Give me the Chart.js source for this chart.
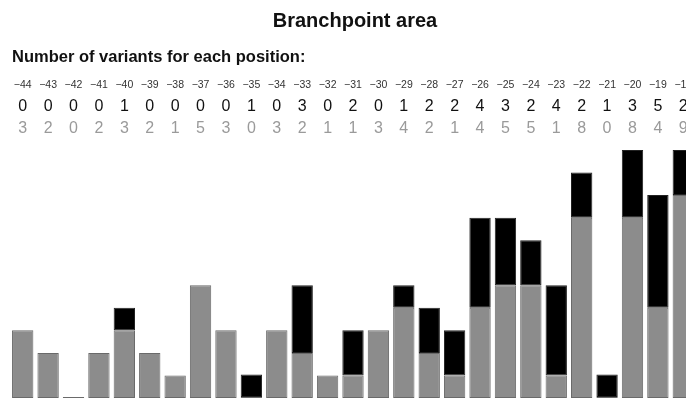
<!DOCTYPE html>
<html>
<head>
<meta charset="utf-8">
<title>Branchpoint area</title>
<script src="https://cdn.jsdelivr.net/npm/chart.js@4/dist/chart.umd.min.js"></script>
<style>
  html, body { margin: 0; padding: 0; background: #fff; overflow: hidden; }
  #wrap { position: relative; width: 700px; height: 398px; }
</style>
</head>
<body>
<div id="wrap"><canvas id="bpChart"></canvas></div>
<script>
// positions upstream of the acceptor site
const positions = ["-44", "-43", "-42", "-41", "-40", "-39", "-38", "-37", "-36", "-35",
  "-34", "-33", "-32", "-31", "-30", "-29", "-28", "-27", "-26", "-25",
  "-24", "-23", "-22", "-21", "-20", "-19", "-18"];

// variant counts per position (black row / gray row)
const blackCounts = [0, 0, 0, 0, 1, 0, 0, 0, 0, 1, 0, 3, 0, 2, 0, 1, 2, 2, 4, 3, 2, 4, 2, 1, 3, 5, 2];
const grayCounts  = [3, 2, 0, 2, 3, 2, 1, 5, 3, 0, 3, 2, 1, 1, 3, 4, 2, 1, 4, 5, 5, 1, 8, 0, 8, 4, 9];

const FONT = "'Liberation Sans', Arial, sans-serif";

// header text + the three number rows above each bar
const headerRows = {
  id: "headerRows",
  afterDraw(chart) {
    const ctx = chart.ctx;
    const x = chart.scales.x;
    ctx.save();
    ctx.textBaseline = "middle";

    ctx.fillStyle = "#111";
    ctx.textAlign = "center";
    ctx.font = "bold 20px " + FONT;
    ctx.fillText("Branchpoint area", 355, 21);

    ctx.textAlign = "left";
    ctx.font = "bold 16.5px " + FONT;
    ctx.fillText("Number of variants for each position:", 12, 57);

    ctx.textAlign = "center";
    positions.forEach((p, i) => {
      const cx = x.getPixelForValue(i);
      ctx.font = "10.5px " + FONT;
      ctx.fillStyle = "#333";
      ctx.fillText(p.replace("-", "\u2212"), cx, 85);
      ctx.font = "16px " + FONT;
      ctx.fillStyle = "#111";
      ctx.fillText(String(blackCounts[i]), cx, 107);
      ctx.fillStyle = "#9a9a9a";
      ctx.fillText(String(grayCounts[i]), cx, 129);
    });
    ctx.restore();
  }
};

new Chart(document.getElementById("bpChart"), {
  type: "bar",
  data: {
    labels: positions,
    datasets: [
      {
        label: "gray",
        data: grayCounts,
        backgroundColor: "#8c8c8c",
        borderColor: "#6a6a6a",
        borderWidth: 1,
        borderSkipped: false,
        minBarLength: 1
      },
      {
        label: "black",
        data: blackCounts,
        backgroundColor: "#000",
        borderColor: "#222",
        borderWidth: 1,
        borderSkipped: false
      }
    ]
  },
  options: {
    responsive: true,
    maintainAspectRatio: false,
    animation: false,
    layout: { padding: { top: 150, bottom: 0, left: 10, right: 4 } },
    datasets: { bar: { categoryPercentage: 1, barPercentage: 0.84 } },
    scales: {
      x: { stacked: true, display: false },
      y: { stacked: true, display: false, min: 0, max: 11 }
    },
    plugins: {
      legend: { display: false },
      tooltip: { enabled: false }
    }
  },
  plugins: [headerRows]
});
</script>
</body>
</html>
